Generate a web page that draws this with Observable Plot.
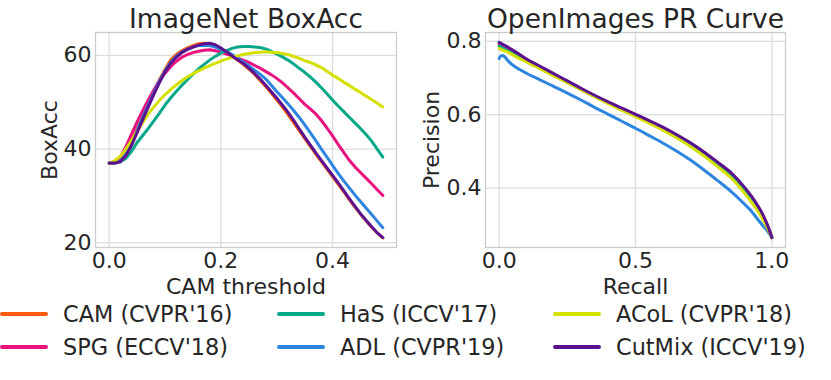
<!DOCTYPE html>
<html><head><meta charset="utf-8">
<script src="https://cdn.jsdelivr.net/npm/d3@7"></script>
<script src="https://cdn.jsdelivr.net/npm/@observablehq/plot@0.6"></script>
<style>
html,body{margin:0;padding:0;background:#fff;}
#root{position:relative;width:831px;height:380px;overflow:hidden;font-family:"DejaVu Sans";color:#262626;background:#fff;}
#left{position:absolute;left:0;top:0;}
#right{position:absolute;left:415px;top:0;}
.sw{position:absolute;height:4px;border-radius:2px;width:48px;}
.lab{position:absolute;font-size:22.4px;line-height:26px;white-space:nowrap;}
</style></head><body>
<div id="root"><div id="left"></div><div id="right"></div><div id="legend"></div></div>
<script>
// ---- data ----
const methods = ["CAM (CVPR'16)", "SPG (ECCV'18)", "HaS (ICCV'17)", "ADL (CVPR'19)", "ACoL (CVPR'18)", "CutMix (ICCV'19)"];
const colors = ["#ff5a0d", "#e8137f", "#06a88a", "#2e85e0", "#d4e000", "#5c1290"];

const thresholds = [0.00,0.01,0.02,0.03,0.04,0.05,0.06,0.07,0.08,0.09,
                    0.10,0.11,0.12,0.13,0.14,0.15,0.16,0.17,0.18,0.19,
                    0.20,0.21,0.22,0.23,0.24,0.25,0.26,0.27,0.28,0.29,
                    0.30,0.31,0.32,0.33,0.34,0.35,0.36,0.37,0.38,0.39,
                    0.40,0.41,0.42,0.43,0.44,0.45,0.46,0.47,0.48,0.49];

const boxCAM = [37.0,37.0,37.6,39.2,41.6,44.3,47.0,49.6,52.3,54.8,
                57.0,59.0,60.2,61.0,61.6,62.1,62.5,62.6,62.5,62.0,
                61.3,60.6,59.8,59.0,58.1,57.1,56.0,54.7,53.4,52.0,
                50.5,49.0,47.4,45.7,44.0,42.3,40.6,38.9,37.3,35.7,
                34.1,32.5,30.9,29.2,27.6,26.1,24.7,23.3,22.1,21.0];
const boxSPG = [37.0,37.1,38.3,40.5,43.2,45.8,48.2,50.5,52.6,54.6,
                56.2,57.6,58.7,59.6,60.2,60.6,60.9,61.1,61.2,61.0,
                60.7,60.3,59.9,59.4,59.0,58.5,57.9,57.3,56.6,55.9,
                55.1,54.2,53.1,52.0,50.8,49.6,48.6,47.5,46.1,44.5,
                42.8,41.0,39.3,37.6,36.2,35.0,33.8,32.6,31.3,30.1];
const boxHaS = [37.0,37.0,37.3,38.0,39.5,41.4,42.9,44.4,46.0,47.7,
                49.4,50.9,52.3,53.6,54.8,56.0,57.1,58.1,59.0,59.8,
                60.5,61.0,61.5,61.8,61.9,61.9,61.8,61.7,61.4,60.9,
                60.3,59.7,59.0,58.2,57.3,56.4,55.4,54.3,53.1,51.8,
                50.5,49.2,48.0,46.8,45.6,44.4,43.1,41.7,40.0,38.3];
const boxADL = [37.0,37.0,37.4,38.9,41.2,44.0,46.8,49.4,52.0,54.5,
                56.7,58.5,59.8,60.7,61.3,61.8,62.1,62.2,62.1,61.8,
                61.3,60.8,60.2,59.4,58.6,57.8,56.9,56.0,55.0,53.7,
                52.3,51.0,49.7,48.3,46.8,45.2,43.5,41.8,40.0,38.3,
                36.5,34.8,33.2,31.7,30.2,28.8,27.4,26.0,24.6,23.2];
const boxACoL = [37.0,37.5,38.5,40.0,41.8,43.7,45.7,47.5,49.0,50.4,
                 51.6,52.7,53.7,54.6,55.4,56.1,56.7,57.3,57.8,58.3,
                 58.8,59.2,59.6,59.9,60.2,60.4,60.6,60.7,60.8,60.7,
                 60.6,60.4,60.2,59.8,59.4,58.9,58.5,58.0,57.4,56.6,
                 55.8,55.1,54.3,53.6,52.8,52.1,51.3,50.6,49.8,49.0];
const boxCutMix = [37.0,37.0,37.3,38.6,40.8,43.5,46.3,49.0,51.7,54.2,
                   56.5,58.3,59.6,60.6,61.3,61.8,62.2,62.5,62.6,62.3,
                   61.6,60.8,59.9,59.1,58.3,57.3,56.2,55.0,53.7,52.3,
                   50.9,49.4,47.9,46.2,44.4,42.6,40.9,39.2,37.6,36.0,
                   34.4,32.8,31.1,29.4,27.8,26.2,24.8,23.4,22.1,21.1];

const recall = [0,0.01,0.02,0.03,0.05,0.075,0.1,0.15,0.2,0.25,0.3,0.35,0.4,0.45,
                0.5,0.55,0.6,0.65,0.7,0.75,0.8,0.85,0.9,0.925,0.95,0.97,0.985,1.0];
const prCAM    = [0.791,0.787,0.783,0.779,0.771,0.759,0.748,0.728,0.708,0.689,0.669,0.650,0.632,0.615,0.598,0.581,0.563,0.542,0.520,0.495,0.467,0.437,0.397,0.373,0.345,0.319,0.294,0.266];
const prSPG    = [0.795,0.791,0.787,0.783,0.774,0.762,0.750,0.730,0.710,0.690,0.670,0.651,0.633,0.616,0.599,0.582,0.564,0.543,0.521,0.496,0.468,0.438,0.398,0.374,0.346,0.320,0.295,0.265];
const prHaS    = [0.787,0.783,0.779,0.775,0.767,0.756,0.746,0.726,0.707,0.688,0.669,0.650,0.632,0.615,0.598,0.581,0.564,0.544,0.522,0.497,0.468,0.437,0.396,0.371,0.343,0.317,0.293,0.265];
const prADL    = [0.753,0.761,0.758,0.749,0.735,0.723,0.713,0.695,0.677,0.659,0.640,0.620,0.601,0.582,0.563,0.543,0.523,0.501,0.477,0.450,0.421,0.391,0.356,0.337,0.313,0.295,0.282,0.265];
const prACoL   = [0.780,0.777,0.774,0.771,0.763,0.753,0.744,0.725,0.706,0.687,0.668,0.649,0.630,0.612,0.595,0.577,0.558,0.537,0.514,0.488,0.459,0.428,0.386,0.362,0.335,0.311,0.289,0.265];
const prCutMix = [0.797,0.793,0.789,0.785,0.776,0.764,0.752,0.732,0.712,0.692,0.672,0.653,0.635,0.618,0.601,0.584,0.566,0.546,0.524,0.499,0.471,0.442,0.402,0.378,0.350,0.323,0.297,0.265];

const boxTicksX = [0, 0.2, 0.4];
const boxTicksY = [20, 40, 60];
const prTicksX = [0, 0.5, 1.0];
const prTicksY = [0.4, 0.6, 0.8];

// ---- tidy tables ----
function tidy(xs, series) {
  const rows = [];
  series.forEach((vals, i) => vals.forEach((v, j) => rows.push({method: methods[i], x: xs[j], y: v})));
  return rows;
}
const boxData = tidy(thresholds, [boxCAM, boxSPG, boxHaS, boxADL, boxACoL, boxCutMix]);
const prData = tidy(recall, [prCAM, prSPG, prHaS, prADL, prACoL, prCutMix]);

const fmt1 = d3.format(".1f");
const GRID = "#dddddd", FRAME = "#cccccc";

function panel(o) {
  return Plot.plot({
    width: o.width, height: 300,
    marginLeft: o.mL, marginRight: o.mR, marginTop: 32, marginBottom: 53,
    style: {fontFamily: "DejaVu Sans", fontSize: "22px", color: "#262626", background: "transparent", overflow: "visible"},
    x: {domain: o.xDomain, label: null},
    y: {domain: o.yDomain, label: null},
    color: {type: "ordinal", domain: methods, range: colors},
    marks: [
      Plot.gridX(o.xTicks, {stroke: GRID, strokeOpacity: 1, strokeWidth: 1.3}),
      Plot.gridY(o.yTicks, {stroke: GRID, strokeOpacity: 1, strokeWidth: 1.3}),
      Plot.frame({stroke: FRAME, strokeWidth: 1.3}),
      Plot.axisX(o.xTicks, {tickSize: 0, tickPadding: 5, tickFormat: o.xFmt, fontSize: 22, label: null}),
      Plot.axisY(o.yTicks, {tickSize: 0, tickPadding: 4, tickFormat: o.yFmt, fontSize: 22, label: null}),
      Plot.line(o.data, {x: "x", y: "y", z: "method", stroke: "method", strokeWidth: 3, curve: o.curve}),
      Plot.text([o.title], {frameAnchor: "top", lineAnchor: "middle", textAnchor: "middle", dy: -13, fontSize: 26.5, text: d => d}),
      Plot.text([o.xLabel], {frameAnchor: "bottom", lineAnchor: "middle", textAnchor: "middle", dy: 39.5, fontSize: 22, text: d => d}),
      Plot.text([o.yLabel], {frameAnchor: "left", lineAnchor: "middle", textAnchor: "middle", dx: o.yLabelDx, rotate: -90, fontSize: 22, text: d => d})
    ]
  });
}

document.getElementById("left").appendChild(panel({
  width: 415, mL: 95, mR: 19, data: boxData, curve: "linear",
  xDomain: [-0.0245, 0.5145], yDomain: [18.97, 64.9],
  xTicks: boxTicksX, yTicks: boxTicksY, xFmt: fmt1, yFmt: d3.format("d"),
  title: "ImageNet BoxAcc", xLabel: "CAM threshold", yLabel: "BoxAcc", yLabelDx: -46
}));
document.getElementById("right").appendChild(panel({
  width: 416, mL: 70, mR: 46, data: prData, curve: "monotone-x",
  xDomain: [-0.05, 1.05], yDomain: [0.238, 0.824],
  xTicks: prTicksX, yTicks: prTicksY, xFmt: fmt1, yFmt: fmt1,
  title: "OpenImages PR Curve", xLabel: "Recall", yLabel: "Precision", yLabelDx: -54
}));

// ---- legend (3 columns, filled column-wise) ----
const legend = document.getElementById("legend");
const colLeft = [0, 277, 553];
const rowY = [314, 347];
methods.forEach((m, i) => {
  const c = Math.floor(i / 2), r = i % 2;
  const sw = document.createElement("div");
  sw.className = "sw";
  sw.style.left = colLeft[c] + "px";
  sw.style.top = (rowY[r] - 2) + "px";
  sw.style.background = colors[i];
  legend.appendChild(sw);
  const lab = document.createElement("div");
  lab.className = "lab";
  lab.style.left = (colLeft[c] + 63) + "px";
  lab.style.top = (rowY[r] - 13) + "px";
  lab.textContent = m;
  legend.appendChild(lab);
});
</script>
</body></html>
